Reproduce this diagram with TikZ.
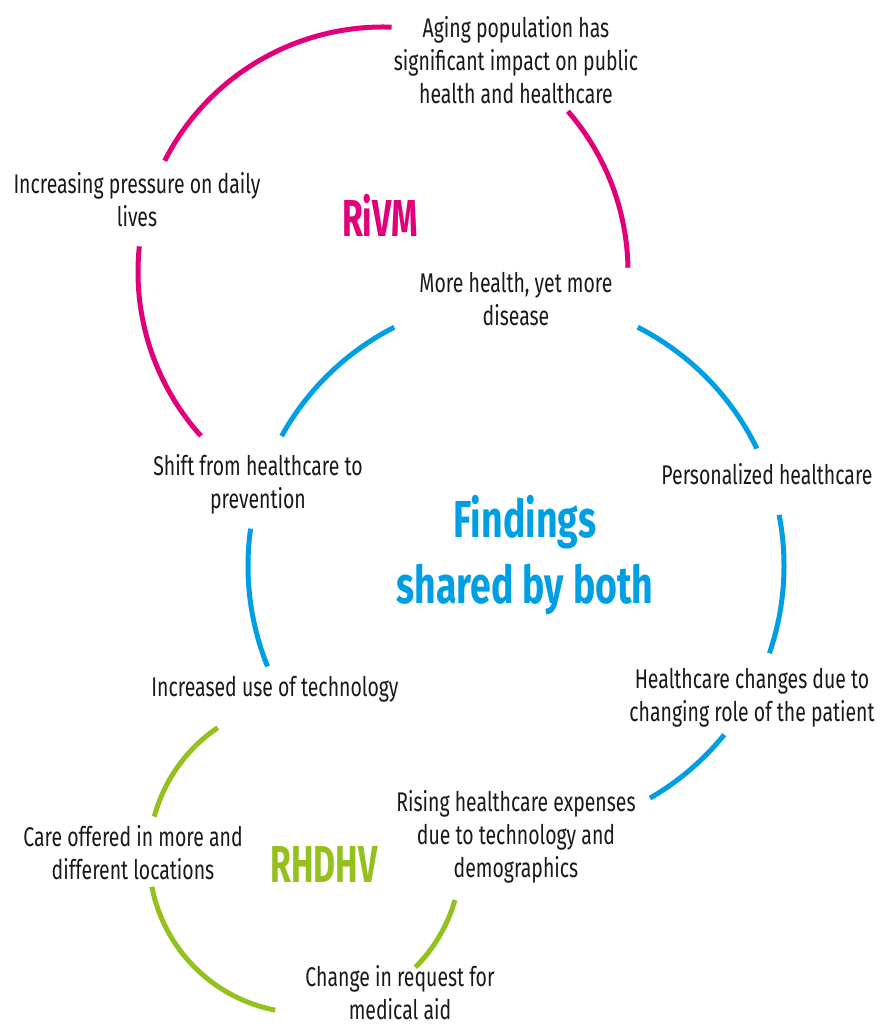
\documentclass[tikz,border=0pt]{standalone}
\usepackage{fontspec}
\newfontfamily\cond{Fira Sans}[FakeStretch=0.72]
\newfontfamily\condn{Fira Sans}[FakeStretch=0.65]
\definecolor{mag}{HTML}{E2007A}
\definecolor{blu}{HTML}{009FE3}
\definecolor{grn}{HTML}{95C11F}
\tikzset{
  ring/.style={line width=5pt},
  txt/.style={align=center, inner sep=0pt, font=\cond\fontsize{27}{33}\selectfont, text=black!90},
  big/.style={align=center, inner sep=0pt, font=\cond\bfseries\fontsize{52}{66}\selectfont},
  lbl/.style={align=center, inner sep=0pt, font=\condn\bfseries\fontsize{52}{66}\selectfont},
}
\begin{document}
\begin{tikzpicture}[x=1pt,y=1pt]
\useasboundingbox[fill=white] (0,0) rectangle (890,1028);
% centres
\coordinate (cm) at (383,756);
\coordinate (cb) at (516,462);
\coordinate (cg) at (305,171);
% magenta ring
\draw[ring,mag] (cm) ++(88:245pt) arc[start angle=88,end angle=153,radius=245pt];
\draw[ring,mag] (cm) ++(174:245pt) arc[start angle=174,end angle=222,radius=245pt];
\draw[ring,mag] (cm) ++(1:245pt) arc[start angle=1,end angle=41,radius=245pt];
% blue ring
\draw[ring,blu] (cb) ++(117:268pt) arc[start angle=117,end angle=151,radius=268pt];
\draw[ring,blu] (cb) ++(26:268pt) arc[start angle=26,end angle=63,radius=268pt];
\draw[ring,blu] (cb) ++(-19:268pt) arc[start angle=-19,end angle=11,radius=268pt];
\draw[ring,blu] (cb) ++(-60:268pt) arc[start angle=-60,end angle=-39,radius=268pt];
\draw[ring,blu] (cb) ++(172:268pt) arc[start angle=172,end angle=202,radius=268pt];
% green ring
\draw[ring,grn] (cg) ++(124:156pt) arc[start angle=124,end angle=165,radius=156pt];
\draw[ring,grn] (cg) ++(191:156pt) arc[start angle=191,end angle=259,radius=156pt];
\draw[ring,grn] (cg) ++(-45:156pt) arc[start angle=-45,end angle=-16,radius=156pt];
% texts
\node[txt] (aging) at (516,968) {Aging population has\\significant impact on public\\health and healthcare};
\node[txt] (press) at (137,828) {Increasing pressure on daily\\lives};
\node[txt] (more) at (516,729) {More health, yet more\\disease};
\node[txt] (shift) at (258,544) {Shift from healthcare to\\prevention};
\node[txt] (pers) at (767,554) {Personalized healthcare};
\node[txt] (tech) at (275,339) {Increased use of technology};
\node[txt] (role) at (752,330) {Healthcare changes due to\\changing role of the patient};
\node[txt] (exp) at (516,191) {Rising healthcare expenses\\due to technology and\\demographics};
\node[txt] (care) at (133,175) {Care offered in more and\\different locations};
\node[txt] (req) at (400,35) {Change in request for\\medical aid};
\node[lbl,text=mag] (rivm) at (380,813) {RiVM};
\node[big,text=blu] (find) at (525,473) {Findings\\shared by both};
\node[lbl,text=grn] (rhdhv) at (324,164) {RHDHV};
\end{tikzpicture}
\end{document}
